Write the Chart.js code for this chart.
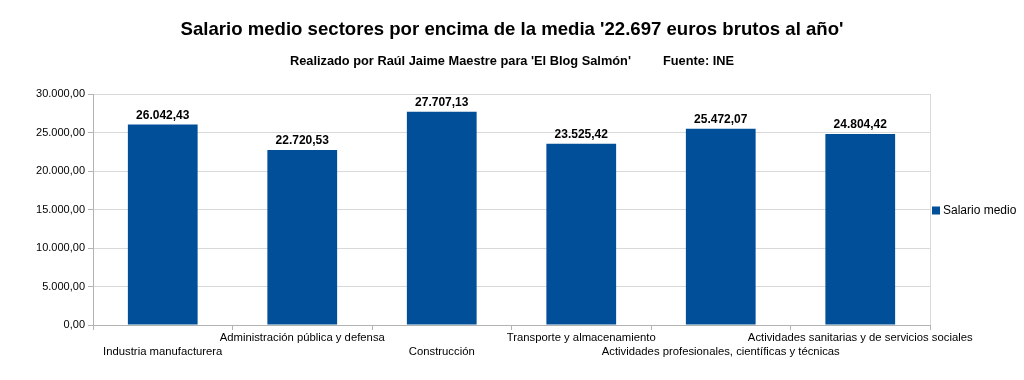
<!DOCTYPE html>
<html>
<head>
<meta charset="utf-8">
<script src="https://cdn.jsdelivr.net/npm/chart.js@4/dist/chart.umd.min.js"></script>
<style>
html,body{margin:0;padding:0;background:#fff;}
#wrap{width:1024px;height:380px;position:relative;}
</style>
</head>
<body>
<div id="wrap"><canvas id="c" width="1024" height="380"></canvas></div>
<script>
const categories = [
  "Industria manufacturera",
  "Administración pública y defensa",
  "Construcción",
  "Transporte y almacenamiento",
  "Actividades profesionales, científicas y técnicas",
  "Actividades sanitarias y de servicios sociales"
];
const salarioMedio = [26042.43, 22720.53, 27707.13, 23525.42, 25472.07, 24804.42];
const seriesName = "Salario medio";
const titleText = "Salario medio sectores por encima de la media '22.697 euros brutos al año'";
const subtitleText = "Realizado por Raúl Jaime Maestre para 'El Blog Salmón'         Fuente: INE";
const yMin = 0, yMax = 30000, yStep = 5000;

const FONT = "'Liberation Sans', Arial, Helvetica, sans-serif";
const BAR = "#004f98";

function fmt(v){
  const s = Math.abs(v).toFixed(2);
  let [i,d] = s.split(".");
  i = i.replace(/\B(?=(\d{3})+(?!\d))/g, ".");
  return (v<0?"-":"") + i + "," + d;
}

const extras = {
  id: "extras",
  afterDatasetsDraw(chart){
    const ctx = chart.ctx;
    const area = chart.chartArea;
    const meta = chart.getDatasetMeta(0);
    const xs = chart.scales.x;
    ctx.save();
    // titles (centred on the whole canvas)
    ctx.fillStyle = "#000";
    ctx.textAlign = "center";
    ctx.textBaseline = "middle";
    ctx.font = "bold 18.6px " + FONT;
    ctx.fillText(titleText, chart.width / 2, 30);
    ctx.font = "bold 12.8px " + FONT;
    ctx.fillText(subtitleText, chart.width / 2, 61);
    // right border
    ctx.strokeStyle = "#d9d9d9";
    ctx.lineWidth = 1;
    ctx.beginPath();
    ctx.moveTo(Math.round(area.right)+0.5, area.top);
    ctx.lineTo(Math.round(area.right)+0.5, area.bottom);
    ctx.stroke();
    // data labels
    ctx.fillStyle = "#000";
    ctx.font = "bold 12px " + FONT;
    ctx.textAlign = "center";
    ctx.textBaseline = "bottom";
    meta.data.forEach((bar, i) => {
      ctx.fillText(fmt(salarioMedio[i]), bar.x, bar.y - 3);
    });
    // x labels staggered
    ctx.font = "11.3px " + FONT;
    ctx.textBaseline = "middle";
    categories.forEach((c, i) => {
      const x = xs.getPixelForValue(i);
      const y = (i % 2 === 0) ? area.bottom + 27 : area.bottom + 13;
      ctx.fillText(c, x, y);
    });
    // legend
    ctx.fillStyle = BAR;
    const ly = (area.top + area.bottom) / 2 + 1;
    ctx.fillRect(area.right + 2, ly - 4, 8, 8);
    ctx.fillStyle = "#000";
    ctx.font = "12px " + FONT;
    ctx.textAlign = "left";
    ctx.fillText(seriesName, area.right + 13, ly);
    ctx.restore();
  }
};

new Chart(document.getElementById("c"), {
  type: "bar",
  data: {
    labels: categories,
    datasets: [{
      label: seriesName,
      data: salarioMedio,
      backgroundColor: BAR,
      borderWidth: 0,
      barPercentage: 0.5,
      categoryPercentage: 1.0
    }]
  },
  options: {
    responsive: false,
    animation: false,
    devicePixelRatio: 1,
    layout: { padding: { left: 0, right: 94, bottom: 50, top: 94 } },
    plugins: {
      legend: { display: false },
      tooltip: { enabled: false },
      title: { display: false },
      subtitle: { display: false }
    },
    scales: {
      x: {
        offset: true,
        ticks: { display: false },
        grid: { display: true, drawOnChartArea: false, drawTicks: true, tickLength: 5, color: "#b3b3b3", offset: true },
        border: { color: "#b3b3b3" }
      },
      y: {
        min: yMin, max: yMax,
        afterFit(s){ s.width = 93; },
        ticks: {
          stepSize: yStep,
          padding: 3,
          color: "#000",
          font: { family: FONT, size: 11 },
          callback: v => fmt(v)
        },
        grid: { color: "#d9d9d9", tickLength: 5, tickColor: "#b3b3b3" },
        border: { color: "#b3b3b3" }
      }
    }
  },
  plugins: [extras]
});
</script>
</body>
</html>
